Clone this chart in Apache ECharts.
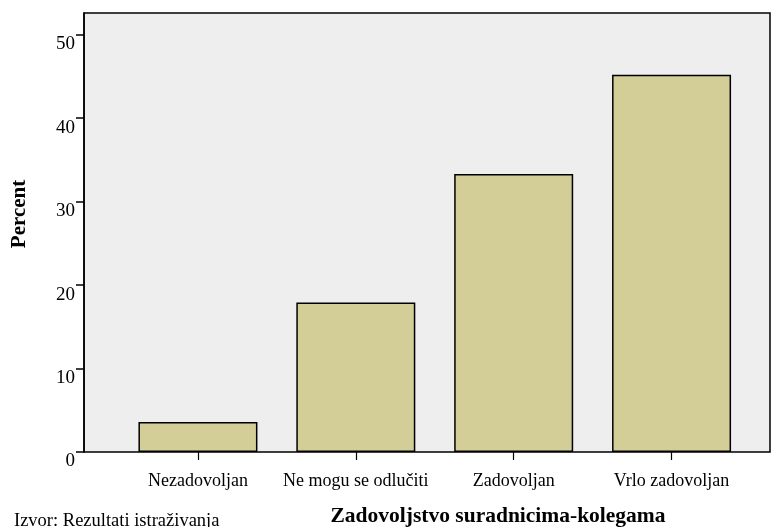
<!DOCTYPE html>
<html>
<head>
<meta charset="utf-8">
<script src="https://cdn.jsdelivr.net/npm/echarts@6/dist/echarts.min.js"></script>
<style>
html,body{margin:0;padding:0;background:#fff;}
#chart{width:783px;height:527px;}
</style>
</head>
<body>
<div id="chart"></div>
<script>
const categories = ['Nezadovoljan', 'Ne mogu se odlučiti', 'Zadovoljan', 'Vrlo zadovoljan'];
const percentValues = [3.6, 17.9, 33.3, 45.2];
const yTicks = [0, 10, 20, 30, 40, 50];
const xAxisTitle = 'Zadovoljstvo suradnicima-kolegama';
const yAxisTitle = 'Percent';
const sourceNote = 'Izvor: Rezultati istraživanja';

const FONT = '"Liberation Serif", "Times New Roman", serif';
const Y_MAX = 52.6;

const chart = echarts.init(document.getElementById('chart'), null, {renderer: 'canvas'});
chart.setOption({
  animation: false,
  backgroundColor: '#ffffff',
  grid: [
    {left: 84, right: 13, top: 13, bottom: 75, show: true, backgroundColor: '#eeeeee', borderColor: '#000', borderWidth: 1.5},
    {left: 119, right: 32.5, top: 13, bottom: 75}
  ],
  xAxis: [
    {type: 'value', gridIndex: 0, show: false, min: 0, max: 1},
    {
      type: 'category', gridIndex: 1, data: categories, boundaryGap: true,
      axisLine: {show: false},
      axisTick: {show: true, alignWithLabel: true, length: 8, lineStyle: {color: '#000', width: 1.2}},
      axisLabel: {interval: 0, margin: 20, color: '#000', fontFamily: FONT, fontSize: 18}
    }
  ],
  yAxis: [
    {
      type: 'value', gridIndex: 0, min: yTicks[0], max: Y_MAX,
      axisLine: {show: true, lineStyle: {color: '#000', width: 1.5}},
      axisTick: {show: true, length: 8, customValues: yTicks, lineStyle: {color: '#000', width: 1.5}},
      splitLine: {show: false},
      axisLabel: {
        customValues: yTicks,
        margin: 9, color: '#000', fontFamily: FONT, fontSize: 19, verticalAlign: 'top'
      }
    },
    {type: 'value', gridIndex: 1, min: 0, max: Y_MAX, show: false}
  ],
  series: [{
    type: 'bar', xAxisIndex: 1, yAxisIndex: 1, data: percentValues, barWidth: 119,
    itemStyle: {color: '#d3ce98', borderColor: '#000', borderWidth: 1.5}
  }],
  graphic: [
    {type: 'text', x: 498, y: 505, style: {text: xAxisTitle, fontFamily: FONT, fontWeight: 'bold', fontSize: 21.5, fill: '#000', textAlign: 'center', textVerticalAlign: 'top'}},
    {type: 'text', x: 20, y: 214, rotation: Math.PI / 2, style: {text: yAxisTitle, fontFamily: FONT, fontWeight: 'bold', fontSize: 21, fill: '#000', textAlign: 'center', textVerticalAlign: 'middle'}},
    {type: 'text', x: 14, y: 512, style: {text: sourceNote, fontFamily: FONT, fontSize: 18.5, fill: '#000', textAlign: 'left', textVerticalAlign: 'top'}}
  ]
});
</script>
</body>
</html>
